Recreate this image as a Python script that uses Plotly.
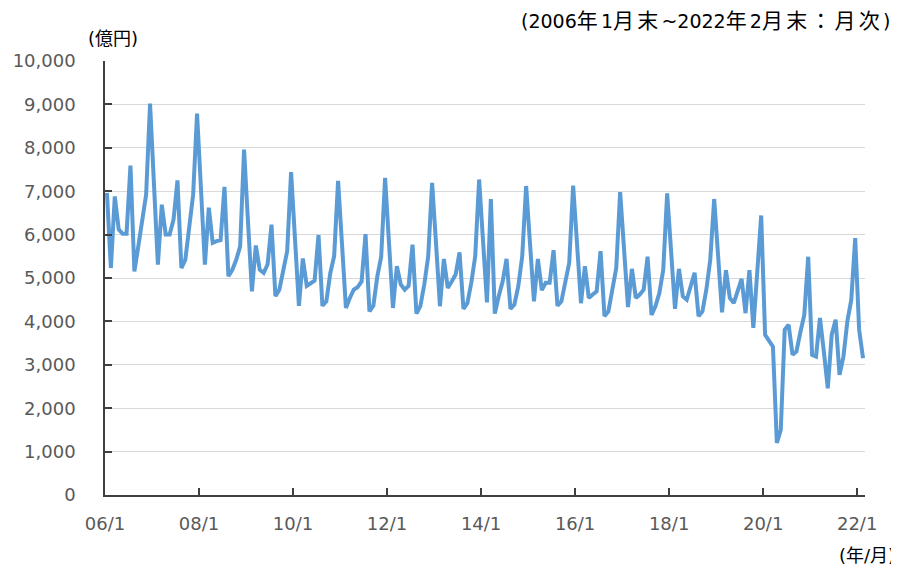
import plotly.graph_objects as go

# Monthly values (億円), 2006/1 .. 2022/2
values = [
    # 2006
    6960, 5230, 6880, 6120, 6020, 6020, 7590, 5150, 5730, 6310, 6920, 9020,
    # 2007
    7150, 5310, 6690, 6000, 6000, 6350, 7250, 5230, 5420, 6120, 6920, 8790,
    # 2008
    7050, 5310, 6620, 5810, 5850, 5870, 7100, 5040, 5190, 5420, 5730, 7960,
    # 2009
    6300, 4690, 5750, 5190, 5120, 5310, 6230, 4580, 4730, 5230, 5615, 7440,
    # 2010
    5900, 4360, 5450, 4820, 4880, 4940, 5990, 4360, 4460, 5110, 5510, 7240,
    # 2011
    5780, 4310, 4540, 4730, 4790, 4920, 6010, 4230, 4360, 5030, 5490, 7310,
    # 2012
    5800, 4310, 5270, 4850, 4730, 4820, 5770, 4180, 4350, 4850, 5500, 7190,
    # 2013
    5800, 4350, 5440, 4770, 4920, 5080, 5590, 4290, 4420, 4890, 5500, 7270,
    # 2014
    5850, 4440, 6820, 4180, 4580, 4920, 5440, 4290, 4390, 4810, 5500, 7120,
    # 2015
    5780, 4460, 5440, 4720, 4890, 4890, 5640, 4360, 4460, 4960, 5350, 7130,
    # 2016
    5780, 4420, 5270, 4540, 4620, 4690, 5620, 4120, 4230, 4730, 5230, 6980,
    # 2017
    5650, 4330, 5210, 4540, 4620, 4730, 5490, 4150, 4350, 4650, 5190, 6950,
    # 2018
    5620, 4290, 5210, 4580, 4500, 4850, 5120, 4120, 4230, 4730, 5420, 6820,
    # 2019
    5500, 4210, 5180, 4540, 4420, 4730, 4980, 4190, 5180, 3850, 5100, 6440,
    # 2020
    3690, 3550, 3420, 1200, 1500, 3810, 3920, 3230, 3310, 3750, 4150, 5490,
    # 2021
    3230, 3190, 4080, 3300, 2460, 3690, 4040, 2770, 3190, 4000, 4500, 5920,
    # 2022
    3810, 3150,
]

tick_labels = ["06/1", "08/1", "10/1", "12/1", "14/1", "16/1", "18/1", "20/1", "22/1"]
y_ticks = [0, 1000, 2000, 3000, 4000, 5000, 6000, 7000, 8000, 9000, 10000]

title_text = "(2006年1月末~2022年2月末：月次)"
unit_text = "(億円)"
xunit_text = "(年/月)"

x_idx = list(range(len(values)))
tick_pos = [24 * k - 0.5 for k in range(len(tick_labels))]

FONT = "DejaVu Sans, Noto Sans CJK JP, sans-serif"
AXIS_COLOR = "#404040"
LABEL_COLOR = "#595959"


def widen_cjk(s, size=21):
    out = []
    for ch in s:
        if ord(ch) > 0x2E80:
            out.append(f'<span style="font-size:{size}px">{ch}</span>\u2006')
        else:
            out.append(ch)
    return "".join(out)


fig = go.Figure()
fig.add_trace(go.Scatter(
    x=x_idx, y=values, mode="lines",
    line=dict(color="#5B9BD5", width=4),
    hoverinfo="skip", showlegend=False,
))

# page body has an 8px margin, so the figure is drawn 8px in from the corner
fig.update_layout(
    width=891, height=557,
    margin=dict(l=97, r=34, t=53, b=70, autoexpand=False),
    paper_bgcolor="white", plot_bgcolor="white",
    font=dict(family=FONT, size=18, color=LABEL_COLOR),
    showlegend=False,
)

fig.update_xaxes(
    range=[-0.5, 193.5],
    tickmode="array", tickvals=tick_pos, ticktext=tick_labels,
    showgrid=False, zeroline=False,
    showline=True, linecolor=AXIS_COLOR, linewidth=2,
    ticks="inside", ticklen=7, tickwidth=1.5, tickcolor=AXIS_COLOR,
    tickfont=dict(family=FONT, size=18, color=LABEL_COLOR),
    ticklabelstandoff=11,
    automargin=False,
)

fig.update_yaxes(
    range=[0, 10000],
    tickmode="array", tickvals=y_ticks,
    ticktext=[f"{v:,}" for v in y_ticks],
    showgrid=True, gridcolor="#d9d9d9", gridwidth=1,
    zeroline=False,
    showline=True, linecolor=AXIS_COLOR, linewidth=1.5,
    ticks="inside", ticklen=7, tickwidth=1.5, tickcolor=AXIS_COLOR,
    tickfont=dict(family=FONT, size=18, color=LABEL_COLOR),
    ticklabelstandoff=24,
    automargin=False,
)

fig.add_annotation(
    text=widen_cjk(title_text),
    xref="paper", yref="paper", x=1.0, y=1.0,
    xanchor="right", yanchor="middle",
    xshift=27, yshift=40,
    showarrow=False,
    font=dict(family=FONT, size=19, color="#000000"),
)
fig.add_annotation(
    text=unit_text,
    xref="paper", yref="paper", x=0.0, y=1.0,
    xanchor="left", yanchor="middle",
    xshift=-19, yshift=23,
    showarrow=False,
    font=dict(family=FONT, size=18, color="#000000"),
)
fig.add_annotation(
    text=xunit_text,
    xref="paper", yref="paper", x=1.0, y=0.0,
    xanchor="right", yanchor="middle",
    xshift=32, yshift=-60,
    showarrow=False,
    font=dict(family=FONT, size=18, color="#000000"),
)

fig.write_html("out.html")
